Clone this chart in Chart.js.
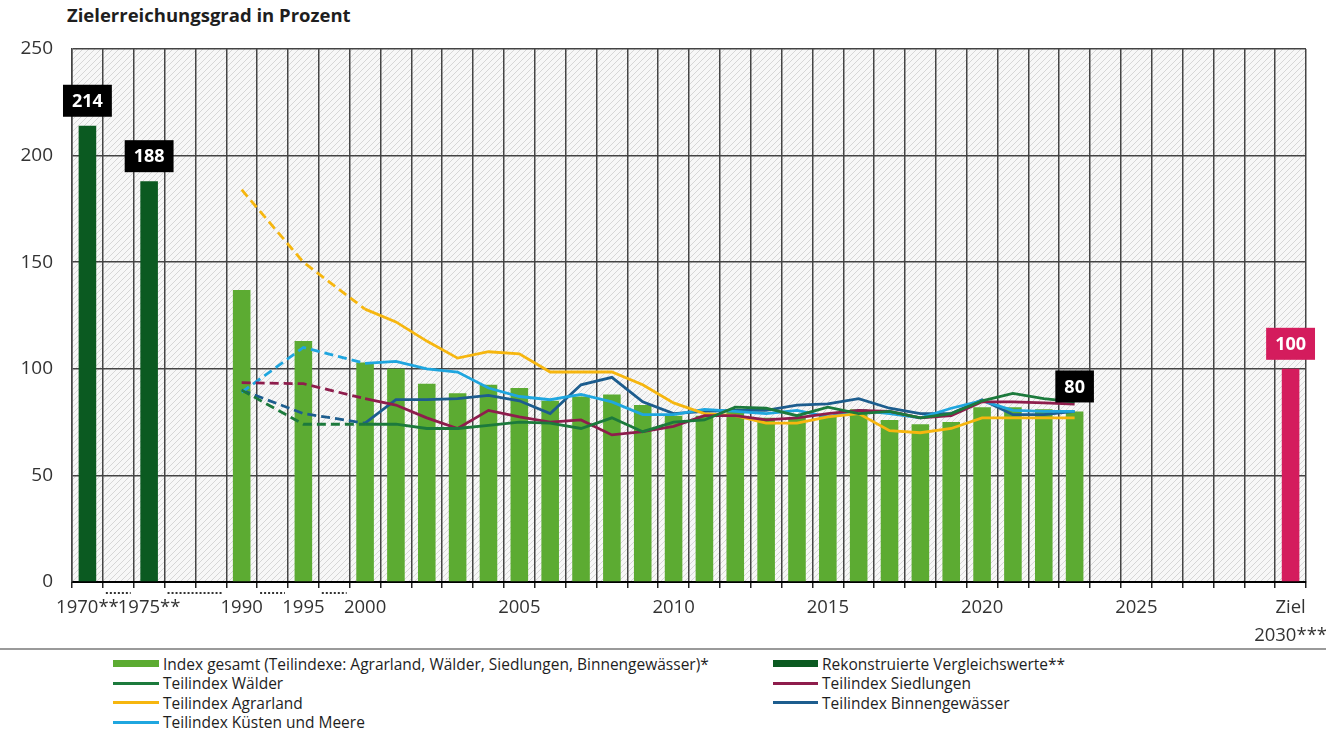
<!DOCTYPE html>
<html lang="de">
<head>
<meta charset="utf-8">
<title>Zielerreichungsgrad in Prozent</title>
<script src="https://cdn.jsdelivr.net/npm/chart.js@4.4.1/dist/chart.umd.min.js"></script>
<style>
  html, body { margin: 0; padding: 0; background: #fff; }
  body { width: 1326px; height: 730px; position: relative; overflow: hidden; font-family: "Open Sans", sans-serif; color: #1e1e1e; }
  #title { position: absolute; left: 67px; top: 6px; font-weight: 700; font-size: 18.5px; line-height: 1; }
  #wrap { position: absolute; left: 0; top: 0; width: 1326px; height: 650px; }
  #rule { position: absolute; left: 0; top: 648px; width: 1326px; height: 2px; background: #9a9a9a; }
  .leg { position: absolute; top: 654px; font-size: 15.5px; }
  .item { display: flex; align-items: center; height: 19.5px; white-space: nowrap; }
</style>
</head>
<body>
<div id="title">Zielerreichungsgrad in Prozent</div>
<div id="wrap"><canvas id="chart"></canvas></div>
<div id="rule"></div>
<div class="leg" id="leg1" style="left:113px"></div>
<div class="leg" id="leg2" style="left:773px"></div>
<script>
// x categories: null marks the shortened gaps of the axis
const catYears = [1970, null, 1975, null, null, 1990, null, 1995, null,
  2000, 2001, 2002, 2003, 2004, 2005, 2006, 2007, 2008, 2009,
  2010, 2011, 2012, 2013, 2014, 2015, 2016, 2017, 2018, 2019,
  2020, 2021, 2022, 2023, 2024, 2025, 2026, 2027, 2028, 2029, 2030];
const tickYears = [1970, 1975, 1990, 1995, 2000, 2005, 2010, 2015, 2020, 2025, 2030];
const tickTexts = ['1970**', '1975**', '1990', '1995', '2000', '2005', '2010', '2015', '2020', '2025', ['Ziel', '2030***']];
const yTicks = [0, 50, 100, 150, 200, 250];

// bars
const reconYears = [1970, 1975];
const reconValues = [214, 188];
const zielYears = [2030];
const zielValues = [100];

// measured years (bars and sub-indices)
const indexYears = [1990, 1995, 2000, 2001, 2002, 2003, 2004, 2005, 2006, 2007, 2008, 2009,
  2010, 2011, 2012, 2013, 2014, 2015, 2016, 2017, 2018, 2019, 2020, 2021, 2022, 2023];
const indexGesamt = [137, 113, 103, 100, 93, 88.5, 92.5, 91, 85, 87, 88, 83,
  78, 78, 81, 77, 77, 78, 81, 76, 74, 75, 82, 82, 81, 80];
const waelder = [90, 74, 74, 74, 72, 72, 73.5, 75, 74.5, 72, 77, 70.5,
  75, 76, 82, 81.5, 78, 82, 79, 80, 77, 79, 85, 88.5, 86, 84.5];
const agrarland = [184, 150, 128, 122, 113, 105, 108, 107, 98.5, 98.5, 98.5, 92.5,
  84, 79, 78, 74.5, 74.5, 77.5, 79, 71, 70, 72, 77, 77, 77, 77];
const kuesten = [89, 110, 102.5, 103.5, 100, 98.5, 91, 87, 85.5, 88, 84.5, 78.5,
  78.5, 81, 80, 79, 80.5, 77.5, 80.5, 79, 77, 81.5, 85, 80.5, 80, 80];
const siedlungen = [93.5, 93, 86, 83, 77, 72, 80.5, 77.5, 75, 76, 69, 70.5,
  73, 78, 78, 76, 77, 79, 80.5, 80, 77, 78, 84.5, 84.5, 84, 83.5];
const binnen = [90, 79, 74.5, 85.5, 85.5, 86, 87.5, 85, 79, 92.5, 96, 84.5,
  79, 80, 80.5, 80.5, 83, 83.5, 86, 81.5, 79, 79, 85.5, 78.5, 78.5, 80];

// years that get a value box
const boxedYears = [1970, 1975, 2023, 2030];

const C = {
  recon: '#0b5a21',
  index: '#5cab32',
  ziel: '#d41c5d',
  waelder: '#1c7a3c',
  agrar: '#f6b60f',
  siedl: '#8e1d4c',
  binnen: '#1d5d8e',
  kuesten: '#1fa6df'
};

function toCategories(years, values) {
  const out = catYears.map(() => null);
  years.forEach((y, i) => { out[catYears.indexOf(y)] = values[i]; });
  return out;
}

const firstSolid = catYears.indexOf(2000);

function lineSet(label, values, color) {
  return {
    type: 'line', label: label, data: toCategories(indexYears, values),
    borderColor: color, backgroundColor: color, borderWidth: 2.8,
    pointRadius: 0, spanGaps: true, fill: false, order: 1, tension: 0,
    segment: { borderDash: ctx => ctx.p1DataIndex <= firstSolid ? [9, 5] : undefined }
  };
}

function makeHatch() {
  const c = document.createElement('canvas');
  c.width = 6; c.height = 6;
  const g = c.getContext('2d');
  g.fillStyle = '#f7f7f7';
  g.fillRect(0, 0, 6, 6);
  g.strokeStyle = '#d6d6d6';
  g.lineWidth = 1;
  g.beginPath();
  g.moveTo(-1, 7); g.lineTo(7, -1);
  g.moveTo(-1, 1); g.lineTo(1, -1);
  g.moveTo(5, 7); g.lineTo(7, 5);
  g.stroke();
  return c;
}

// hatched plot background
const hatchBg = {
  id: 'hatchBg',
  beforeDraw(chart) {
    const a = chart.chartArea, ctx = chart.ctx;
    ctx.save();
    ctx.fillStyle = ctx.createPattern(makeHatch(), 'repeat');
    ctx.fillRect(a.left, a.top, a.right - a.left, a.bottom - a.top);
    ctx.restore();
  }
};

// dotted marks under the shortened parts of the axis
const gapDots = {
  id: 'gapDots',
  afterDraw(chart) {
    const x = chart.scales.x, ctx = chart.ctx;
    const w = x.getPixelForValue(1) - x.getPixelForValue(0);
    const y = chart.chartArea.bottom + 11;
    ctx.save();
    ctx.strokeStyle = '#333';
    ctx.lineWidth = 2;
    ctx.setLineDash([2, 2]);
    let i = 0;
    while (i < catYears.length) {
      if (catYears[i] === null) {
        let j = i;
        while (catYears[j + 1] === null) j++;
        ctx.beginPath();
        ctx.moveTo(x.getPixelForValue(i) - w / 2 + 3, y);
        ctx.lineTo(x.getPixelForValue(j) + w / 2 - 3, y);
        ctx.stroke();
        i = j + 1;
      } else i++;
    }
    ctx.restore();
  }
};

// value boxes above selected bars
const valueBoxes = {
  id: 'valueBoxes',
  afterDatasetsDraw(chart) {
    const ctx = chart.ctx;
    ctx.save();
    ctx.font = 'bold 18px "Open Sans", sans-serif';
    ctx.textAlign = 'center';
    ctx.textBaseline = 'middle';
    chart.data.datasets.forEach((ds, di) => {
      if (ds.type !== 'bar') return;
      const meta = chart.getDatasetMeta(di);
      ds.data.forEach((v, i) => {
        if (v === null || !boxedYears.includes(catYears[i])) return;
        const el = meta.data[i];
        const txt = String(v);
        const w = ctx.measureText(txt).width + 18, h = 32;
        const bottom = el.y - 9;
        ctx.fillStyle = ds.boxColor;
        ctx.fillRect(el.x - w / 2, bottom - h, w, h);
        ctx.fillStyle = '#fff';
        ctx.fillText(txt, el.x, bottom - h / 2 + 1);
      });
    });
    ctx.restore();
  }
};

Chart.defaults.font.family = '"Open Sans", sans-serif';
Chart.defaults.color = '#222';

new Chart(document.getElementById('chart'), {
  data: {
    labels: catYears.map(y => y === null ? '' : String(y)),
    datasets: [
      { type: 'bar', label: 'Rekonstruierte Vergleichswerte**', data: toCategories(reconYears, reconValues),
        backgroundColor: C.recon, boxColor: '#000', grouped: false, order: 5, barPercentage: 0.57, categoryPercentage: 1 },
      { type: 'bar', label: 'Index gesamt (Teilindexe: Agrarland, Wälder, Siedlungen, Binnengewässer)*',
        data: toCategories(indexYears, indexGesamt), backgroundColor: C.index, boxColor: '#000',
        grouped: false, order: 5, barPercentage: 0.57, categoryPercentage: 1 },
      { type: 'bar', label: 'Ziel', data: toCategories(zielYears, zielValues),
        backgroundColor: C.ziel, boxColor: C.ziel, grouped: false, order: 5, barPercentage: 0.57, categoryPercentage: 1 },
      lineSet('Teilindex Wälder', waelder, C.waelder),
      lineSet('Teilindex Siedlungen', siedlungen, C.siedl),
      lineSet('Teilindex Agrarland', agrarland, C.agrar),
      lineSet('Teilindex Küsten und Meere', kuesten, C.kuesten),
      lineSet('Teilindex Binnengewässer', binnen, C.binnen)
    ]
  },
  options: {
    responsive: true,
    maintainAspectRatio: false,
    animation: false,
    layout: { padding: { left: 0, right: 20, top: 49, bottom: 0 } },
    plugins: { legend: { display: false }, tooltip: { enabled: false } },
    scales: {
      x: {
        type: 'category',
        offset: true,
        grid: { offset: true, color: '#444', lineWidth: 1.5, tickLength: 6, tickColor: '#222', tickWidth: 1.5 },
        border: { color: '#000', width: 2 },
        ticks: {
          autoSkip: false, maxRotation: 0, padding: 6,
          font: { size: 18.5, lineHeight: 1.5 }, color: '#333',
          callback: (v, i) => {
            const k = tickYears.indexOf(catYears[i]);
            return k >= 0 ? tickTexts[k] : '';
          }
        },
        afterFit: s => { s.height = 68; s.paddingLeft = 0; s.paddingRight = 0; }
      },
      y: {
        min: 0, max: 250,
        grid: { color: '#444', lineWidth: 1.5, drawTicks: false },
        border: { color: '#444', width: 1.5 },
        afterBuildTicks: s => { s.ticks = yTicks.map(v => ({ value: v })); },
        ticks: { padding: 19, font: { size: 19 }, color: '#333' },
        afterFit: s => { s.width = 72; }
      }
    }
  },
  plugins: [hatchBg, gapDots, valueBoxes]
});

// legend
const legendCols = [
  [
    { label: 'Index gesamt (Teilindexe: Agrarland, Wälder, Siedlungen, Binnengewässer)*', color: C.index, bar: true },
    { label: 'Teilindex Wälder', color: C.waelder },
    { label: 'Teilindex Agrarland', color: C.agrar },
    { label: 'Teilindex Küsten und Meere', color: C.kuesten }
  ],
  [
    { label: 'Rekonstruierte Vergleichswerte**', color: C.recon, bar: true },
    { label: 'Teilindex Siedlungen', color: C.siedl },
    { label: 'Teilindex Binnengewässer', color: C.binnen }
  ]
];
const swWidth = [46, 45];
legendCols.forEach((col, ci) => {
  const box = document.getElementById('leg' + (ci + 1));
  col.forEach(it => {
    const row = document.createElement('div');
    row.className = 'item';
    const sw = document.createElement('span');
    sw.style.width = swWidth[ci] + 'px';
    sw.style.marginRight = '4px';
    sw.style.height = (it.bar ? 7 : 3) + 'px';
    sw.style.background = it.color;
    const t = document.createElement('span');
    t.textContent = it.label;
    row.appendChild(sw);
    row.appendChild(t);
    box.appendChild(row);
  });
});
</script>
</body>
</html>
